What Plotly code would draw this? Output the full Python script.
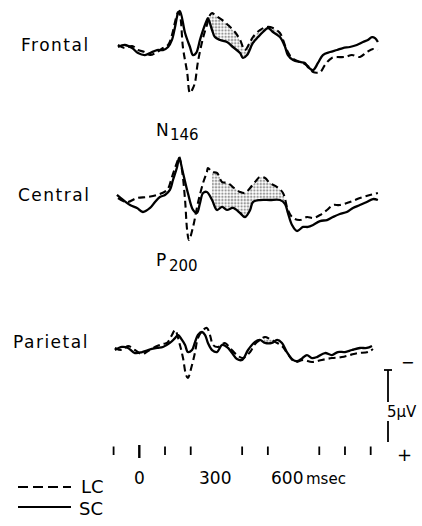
import numpy as np
import plotly.graph_objects as go

# ---------------- data (time in ms, amplitude in microvolts, negative = up) ----------------
frontal_sc_t = [-83, -56, -28, -5, 22, 42, 69, 92, 112, 127, 139, 151, 158, 178, 197, 209, 221, 236, 248, 263, 267,
                283, 294, 314, 341, 364, 392, 403, 419, 442, 462, 481, 501, 520, 547, 567, 578, 598, 625, 644, 656,
                676, 695, 714, 742, 769, 792, 819, 846, 870, 889, 905, 917, 928]
frontal_sc_v = [0.0, -0.14, 0.07, 0.42, 0.56, 0.42, 0.21, 0.21, 0.0, -0.49, -1.39, -2.36, -2.5, -0.97, 0.0, 0.56, 0.42,
                -0.49, -1.18, -1.88, -2.0, -1.18, -0.69, -0.49, -0.35, 0.0, 0.42, 0.76, 0.56, -0.28, -0.69, -1.04,
                -1.32, -1.04, -0.69, 0.0, 0.56, 0.9, 1.04, 1.11, 1.39, 1.6, 1.11, 0.56, 0.35, 0.21, 0.07, 0.0, -0.14,
                -0.35, -0.49, -0.69, -0.62, -0.35]
frontal_lc_t = [-83, -56, -28, -5, 22, 42, 69, 92, 112, 127, 139, 151, 158, 170, 186, 197, 209, 217, 228, 248, 263,
                275, 283, 294, 322, 345, 372, 392, 411, 431, 442, 469, 497, 520, 547, 559, 574, 594, 625, 644, 664,
                676, 703, 722, 749, 800, 827, 858, 885, 909, 928]
frontal_lc_v = [-0.14, 0.07, -0.07, 0.21, 0.35, 0.56, 0.35, 0.07, -0.14, -0.83, -1.74, -2.43, -2.22, 0.07, 1.74, 3.19,
                2.85, 2.43, 1.04, -0.63, -1.53, -2.22, -2.36, -2.22, -1.88, -1.53, -1.04, -0.49, 0.21, -0.35, -0.69,
                -1.18, -1.39, -1.32, -0.97, -0.49, 0.21, 0.76, 1.04, 1.18, 1.46, 1.74, 1.74, 1.25, 0.76, 0.69, 0.56,
                0.69, 0.35, 0.14, 0.21]

central_sc_t = [-87, -63, -36, -9, 14, 42, 61, 80, 100, 119, 131, 147, 155, 170, 189, 209, 224, 236, 248, 263, 283,
                302, 322, 341, 364, 392, 411, 431, 442, 469, 508, 547, 567, 578, 594, 613, 637, 656, 676, 703, 730,
                753, 780, 807, 831, 858, 885, 909, 928]
central_sc_v = [-0.14, 0.21, 0.56, 0.76, 1.04, 0.76, 0.35, 0.0, -0.14, -0.49, -1.18, -2.08, -2.71, -1.67, -0.28, 0.9,
                1.11, 0.42, -0.28, -0.35, 0.21, 0.9, 0.69, 0.9, 0.76, 1.11, 1.39, 0.9, 0.35, 0.21, 0.21, 0.21, 0.49,
                1.11, 1.94, 2.36, 2.08, 2.08, 1.94, 1.67, 1.6, 1.39, 1.18, 1.04, 0.76, 0.56, 0.35, 0.14, 0.21]
central_lc_t = [-83, -48, -9, 30, 69, 108, 127, 147, 155, 166, 178, 186, 193, 209, 228, 248, 263, 267, 283, 302, 322,
                345, 364, 392, 411, 431, 450, 469, 489, 508, 536, 559, 578, 598, 625, 652, 676, 703, 730, 753, 780,
                819, 858, 897, 928]
central_lc_v = [0.07, 0.35, 0.07, 0.0, -0.14, -0.49, -1.39, -2.43, -2.78, -1.88, 0.21, 2.29, 2.99, 2.08, 0.42, -0.97,
                -1.74, -2.01, -1.74, -1.67, -1.04, -0.97, -0.69, -0.35, -0.28, -0.63, -1.04, -1.39, -1.32, -0.97,
                -0.69, -0.28, 0.9, 1.46, 1.6, 1.39, 1.46, 1.25, 0.9, 0.56, 0.56, 0.35, 0.07, -0.14, -0.28]

parietal_sc_t = [-95, -67, -44, -17, 11, 34, 69, 92, 119, 139, 151, 166, 178, 189, 205, 217, 228, 244, 256, 267, 283,
                 302, 322, 341, 361, 380, 400, 423, 450, 469, 489, 516, 536, 555, 574, 594, 613, 633, 652, 672, 691,
                 722, 749, 772, 800, 827, 858, 885, 905]
parietal_sc_v = [0.07, -0.14, -0.07, 0.28, 0.21, 0.07, -0.07, -0.14, -0.42, -0.76, -0.97, -0.63, -0.28, 0.21, 0.07,
                 -0.49, -0.97, -1.18, -0.97, -0.42, 0.07, 0.21, -0.28, -0.14, 0.28, 0.7, 0.76, 0.07, -0.49, -0.63,
                 -0.42, -0.42, -0.63, -0.42, 0.21, 0.7, 0.85, 0.65, 0.42, 0.63, 0.56, 0.28, 0.42, 0.21, 0.21, 0.07,
                 -0.07, -0.07, -0.21]
parietal_lc_t = [-95, -67, -44, -17, 11, 34, 69, 92, 108, 127, 139, 158, 170, 182, 189, 205, 217, 228, 248, 263, 275,
                 287, 306, 333, 353, 380, 403, 431, 450, 469, 489, 508, 528, 555, 578, 606, 637, 672, 710, 749, 788,
                 819, 850, 889, 909]
parietal_lc_v = [-0.07, 0.07, -0.21, 0.07, 0.35, 0.14, -0.21, -0.35, -0.42, -0.97, -1.32, -0.28, 0.63, 1.81, 2.01,
                 1.11, 0.21, -0.76, -1.32, -1.46, -0.97, -0.28, -0.14, -0.42, -0.07, 0.42, 0.63, 0.21, -0.35, -0.63,
                 -0.83, -0.69, -0.49, -0.21, 0.35, 0.9, 0.76, 0.9, 0.76, 0.63, 0.56, 0.42, 0.28, 0.21, 0.0]

channel_names = ["Frontal", "Central", "Parietal"]
shade_windows = [(263, 590), (283, 585), (485, 535)]      # ms ranges with LC > SC negativity
time_ticks = [-100, 0, 100, 200, 400, 500, 700, 800, 900]
time_labels = ["0", "300", "600"]
scale_uv = 5

# ---------------- layout geometry ----------------
W, H = 422, 526
X0_PX, PX_PER_MS, PX_PER_UV = 139.3, 0.2571, 14.4
baselines_px = [47, 197, 349]
label_pos = [(55, 45), (54, 195), (51, 342)]


def ms_at(px):
    return (px - X0_PX) / PX_PER_MS


def uv_at(py):
    return py / PX_PER_UV


def fx(px):
    return px / W


def fy(py):
    return 1 - py / H


FONT = "DejaVu Sans"
series = [
    (frontal_sc_t, frontal_sc_v, frontal_lc_t, frontal_lc_v),
    (central_sc_t, central_sc_v, central_lc_t, central_lc_v),
    (parietal_sc_t, parietal_sc_v, parietal_lc_t, parietal_lc_v),
]

fig = go.Figure()
for (st, sv, lt, lv), base_px, (w0, w1) in zip(series, baselines_px, shade_windows):
    base = uv_at(base_px)
    sy = np.array(sv) + base
    ly = np.array(lv) + base
    # shaded difference (dotted) between LC and SC
    g = np.arange(w0, w1 + 1, 3.0)
    s_i = np.interp(g, st, sy)
    l_i = np.minimum(np.interp(g, lt, ly), s_i)
    fig.add_trace(go.Scatter(
        x=np.concatenate([g, g[::-1]]), y=np.concatenate([l_i, s_i[::-1]]),
        mode="lines", fill="toself", line=dict(width=0),
        fillcolor="rgba(0,0,0,0)",
        fillpattern=dict(shape=".", size=3.2, solidity=0.45, fgcolor="#333", bgcolor="white"),
        hoverinfo="skip", showlegend=False))
    fig.add_trace(go.Scatter(x=lt, y=ly, mode="lines", line=dict(color="black", width=2.1, dash="7px,4px"),
                             line_shape="spline", showlegend=False))
    fig.add_trace(go.Scatter(x=st, y=sy, mode="lines", line=dict(color="black", width=2.3),
                             line_shape="spline", showlegend=False))

shapes = []
# time ticks
for t in time_ticks:
    big = (t == 0)
    shapes.append(dict(type="line", xref="x", yref="y", x0=t, x1=t,
                       y0=uv_at(445 if big else 446.5), y1=uv_at(458 if big else 455),
                       line=dict(color="black", width=2.4 if big else 1.8)))
# 5 uV scale bar (split around the label)
sb_x = ms_at(388)
sb_top = uv_at(370)
sb_bot = sb_top + scale_uv
shapes.append(dict(type="line", xref="x", yref="y", x0=sb_x, x1=sb_x, y0=sb_top, y1=uv_at(402),
                   line=dict(color="black", width=1.8)))
shapes.append(dict(type="line", xref="x", yref="y", x0=sb_x, x1=sb_x, y0=uv_at(421), y1=sb_bot,
                   line=dict(color="black", width=1.8)))
shapes.append(dict(type="line", xref="x", yref="y", x0=ms_at(384), x1=ms_at(392), y0=sb_top, y1=sb_top,
                   line=dict(color="black", width=1.8)))
# legend samples
shapes.append(dict(type="line", xref="paper", yref="paper", x0=fx(18), x1=fx(71), y0=fy(487), y1=fy(487),
                   line=dict(color="black", width=1.8, dash="10px,5px")))
shapes.append(dict(type="line", xref="paper", yref="paper", x0=fx(18), x1=fx(71), y0=fy(507), y1=fy(507),
                   line=dict(color="black", width=1.8)))

ann = []


def text(s, px, py, size=17, xanchor="center"):
    ann.append(dict(text=s, x=fx(px), y=fy(py), xref="paper", yref="paper", showarrow=False,
                    xanchor=xanchor, yanchor="middle", font=dict(family=FONT, size=size, color="black")))


for name, (lx, ly) in zip(channel_names, label_pos):
    text("<span style='letter-spacing:1.5px'>" + name + "</span>", lx, ly)
text("N", 162, 130)
text("146", 168, 135, size=15, xanchor="left")
text("P", 161, 260)
text("200", 167, 266, size=15, xanchor="left")
text(time_labels[0], 139, 478)
text(time_labels[1], 215, 478)
text(time_labels[2], 287, 478)
text("msec", 304, 479, size=15, xanchor="left")
text("−", 407, 362, size=16)
text("5µV", 402, 412, size=15)
text("+", 404, 454, size=18)
text("LC", 92, 486, size=18)
text("SC", 91, 508, size=18)

fig.update_layout(
    width=W, height=H, margin=dict(l=0, r=0, t=0, b=0),
    paper_bgcolor="white", plot_bgcolor="white", showlegend=False,
    xaxis=dict(range=[ms_at(0), ms_at(W)], visible=False, fixedrange=True),
    yaxis=dict(range=[uv_at(H), 0], visible=False, fixedrange=True),
    shapes=shapes, annotations=ann,
)
fig.write_html("out.html")
